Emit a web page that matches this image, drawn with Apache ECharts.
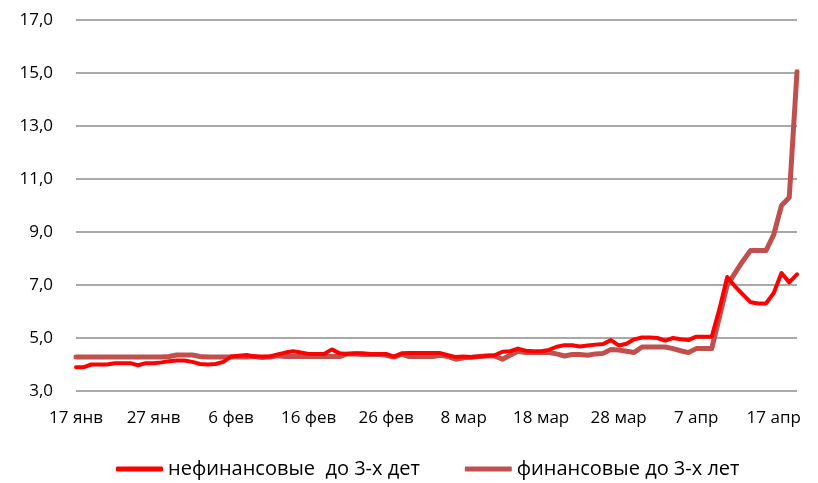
<!DOCTYPE html>
<html><head><meta charset="utf-8">
<script src="https://cdn.jsdelivr.net/npm/echarts@6/dist/echarts.min.js"></script>
<style>html,body{margin:0;padding:0;background:#fff}#c{width:818px;height:483px}</style>
</head><body><div id="c"></div>
<script>
// Daily categories from 17 Jan to 20 Apr (labels every 10 days)
const monthNames = ['янв','фев','мар','апр'];
const monthDays = [31, 28, 31, 30];
const startDay = 17, dayCount = 94;
const categories = [];
(function(){ let m = 0, d = startDay; for (let i = 0; i < dayCount; i++) { categories.push(d + ' ' + monthNames[m]); d++; if (d > monthDays[m]) { d = 1; m++; } } })();

const yTicks = { min: 3, max: 17, interval: 2 };

const seriesNames = ['нефинансовые  до 3-х дет', 'финансовые до 3-х лет'];

const nonFinancial = [
  3.9, 3.9, 4.0, 4.0, 4.0, 4.05, 4.05, 4.05, 3.97, 4.05,
  4.05, 4.08, 4.12, 4.15, 4.15, 4.1, 4.02, 4.0, 4.02, 4.1,
  4.3, 4.33, 4.36, 4.3, 4.3, 4.3, 4.38, 4.45, 4.5, 4.45,
  4.4, 4.4, 4.4, 4.57, 4.42, 4.4, 4.42, 4.42, 4.4, 4.4,
  4.4, 4.3, 4.42, 4.43, 4.43, 4.43, 4.43, 4.43, 4.35, 4.28,
  4.3, 4.28, 4.3, 4.33, 4.35, 4.48, 4.5, 4.6, 4.52, 4.5,
  4.5, 4.55, 4.67, 4.73, 4.73, 4.68, 4.72, 4.75, 4.77, 4.92,
  4.72, 4.78, 4.95, 5.02, 5.02, 5.0, 4.9, 5.0, 4.95, 4.92,
  5.05, 5.05, 5.05, 6.1, 7.3, 6.95, 6.65, 6.35, 6.3, 6.3,
  6.7, 7.45, 7.1, 7.4
];

const financial = [
  4.28, 4.28, 4.28, 4.28, 4.28, 4.28, 4.28, 4.28, 4.28, 4.28,
  4.28, 4.28, 4.3, 4.36, 4.36, 4.36, 4.3, 4.28, 4.28, 4.28,
  4.28, 4.28, 4.28, 4.3, 4.26, 4.28, 4.33, 4.3, 4.3, 4.3,
  4.3, 4.3, 4.3, 4.3, 4.3, 4.4, 4.4, 4.38, 4.38, 4.38,
  4.35, 4.28, 4.38, 4.3, 4.3, 4.3, 4.3, 4.35, 4.3, 4.2,
  4.25, 4.27, 4.3, 4.32, 4.32, 4.2, 4.35, 4.5, 4.45, 4.45,
  4.45, 4.45, 4.4, 4.32, 4.38, 4.38, 4.35, 4.4, 4.42, 4.57,
  4.55, 4.5, 4.45, 4.66, 4.66, 4.66, 4.66, 4.6, 4.52, 4.45,
  4.6, 4.6, 4.6, 5.8, 7.0, 7.45, 7.9, 8.3, 8.3, 8.3,
  8.9, 10.0, 10.3, 15.05
];

const colors = ['#FF0000', '#C0504D'];
const fontFamily = '"Open Sans", Lato, sans-serif';

const chart = echarts.init(document.getElementById('c'), null, { renderer: 'canvas' });
chart.setOption({
  animation: false,
  backgroundColor: '#ffffff',
  grid: { left: 76, right: 21, top: 20, bottom: 92, containLabel: false },
  legend: {
    top: 459,
    left: 116,
    padding: 0,
    itemGap: 45,
    itemWidth: 47,
    itemHeight: 5,
    textStyle: { fontFamily: fontFamily, fontSize: 20, color: '#000' },
    data: [
      { name: seriesNames[0], icon: 'roundRect' },
      { name: seriesNames[1], icon: 'roundRect' }
    ]
  },
  xAxis: {
    type: 'category',
    data: categories,
    boundaryGap: false,
    axisLine: { show: false },
    axisTick: { show: false },
    splitLine: { show: false },
    axisLabel: {
      interval: function (idx) { return idx % 10 === 0; },
      margin: 19,
      fontFamily: fontFamily,
      fontSize: 17,
      color: '#000'
    }
  },
  yAxis: {
    type: 'value',
    min: yTicks.min,
    max: yTicks.max,
    interval: yTicks.interval,
    axisLine: { show: false },
    axisTick: { show: false },
    splitLine: { lineStyle: { color: '#8c8c8c', width: 1.5 } },
    axisLabel: {
      margin: 23,
      fontFamily: fontFamily,
      fontSize: 17,
      color: '#000',
      formatter: function (v) { return v.toFixed(1).replace('.', ','); }
    }
  },
  series: [
    {
      name: seriesNames[0], type: 'line', data: nonFinancial,
      showSymbol: false, symbol: 'none', color: colors[0],
      lineStyle: { width: 4, color: colors[0], join: 'round', cap: 'round' },
      z: 3
    },
    {
      name: seriesNames[1], type: 'line', data: financial,
      showSymbol: false, symbol: 'none', color: colors[1],
      lineStyle: { width: 5, color: colors[1], join: 'round', cap: 'round' },
      z: 2
    }
  ]
});
</script></body></html>
